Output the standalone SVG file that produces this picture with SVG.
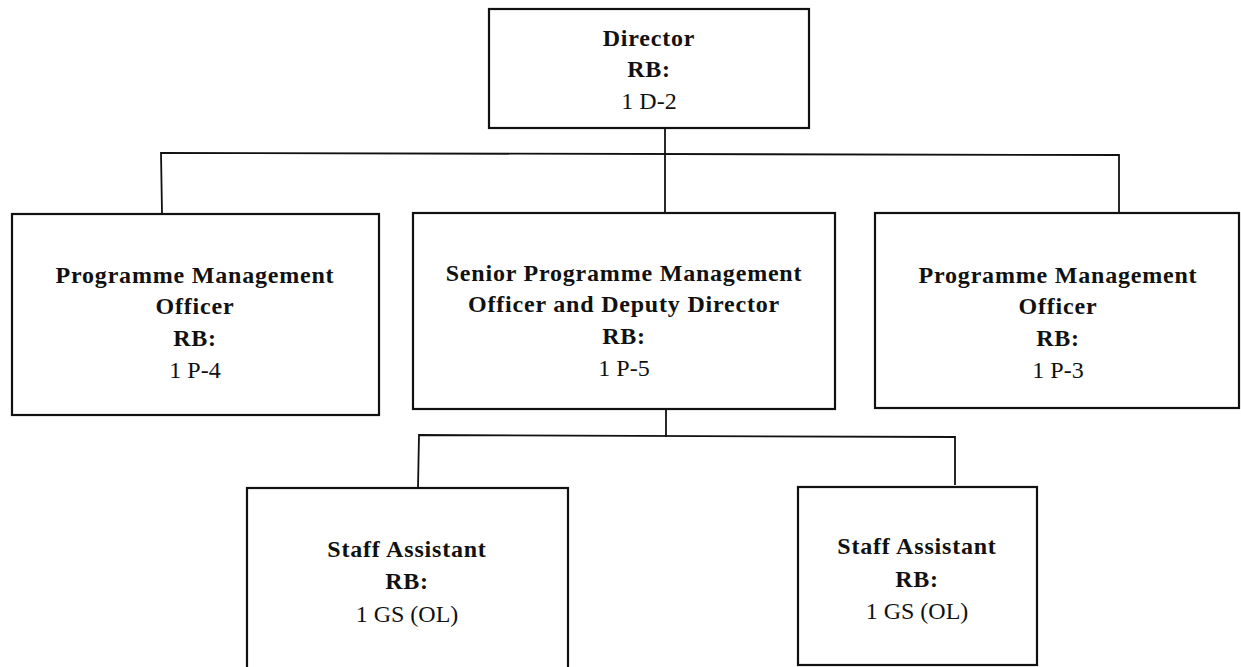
<svg xmlns="http://www.w3.org/2000/svg" width="1241" height="667" viewBox="0 0 1241 667">
  <style>
    .box { fill: #ffffff; stroke: #111111; stroke-width: 2.2; }
    .wire { fill: none; stroke: #111111; stroke-width: 1.8; }
    text { font-family: "Liberation Serif", "Times New Roman", serif; font-size: 24px; fill: #111111; text-anchor: middle; }
    .b { font-weight: bold; letter-spacing: 0.8px; }
  </style>
  <rect width="1241" height="667" fill="#ffffff"/>

  <!-- connectors -->
  <g id="connectors">
    <line class="wire" x1="665" y1="128" x2="665" y2="213"/>
    <polyline class="wire" points="162,213 161,153 1119,155 1119,213"/>
    <line class="wire" x1="666" y1="409" x2="666" y2="437"/>
    <polyline class="wire" points="418,488 419,435 955,437 955,485"/>
  </g>

  <!-- Director -->
  <g id="director">
    <rect class="box" x="489" y="9" width="320" height="119"/>
    <text class="b" x="649" y="46">Director</text>
    <text class="b" x="649" y="77">RB:</text>
    <text x="649" y="109">1 D-2</text>
  </g>

  <!-- Programme Management Officer (P-4) -->
  <g id="pmo-p4">
    <rect class="box" x="12" y="214" width="367" height="201"/>
    <text class="b" x="195" y="283">Programme Management</text>
    <text class="b" x="195" y="314">Officer</text>
    <text class="b" x="195" y="346">RB:</text>
    <text x="195" y="378">1 P-4</text>
  </g>

  <!-- Senior Programme Management Officer and Deputy Director -->
  <g id="spmo-p5">
    <rect class="box" x="413" y="213" width="422" height="196"/>
    <text class="b" x="624" y="281">Senior Programme Management</text>
    <text class="b" x="624" y="312">Officer and Deputy Director</text>
    <text class="b" x="624" y="344">RB:</text>
    <text x="624" y="376">1 P-5</text>
  </g>

  <!-- Programme Management Officer (P-3) -->
  <g id="pmo-p3">
    <rect class="box" x="875" y="213" width="364" height="195"/>
    <text class="b" x="1058" y="283">Programme Management</text>
    <text class="b" x="1058" y="314">Officer</text>
    <text class="b" x="1058" y="346">RB:</text>
    <text x="1058" y="378">1 P-3</text>
  </g>

  <!-- Staff Assistant (left) -->
  <g id="staff-left">
    <rect class="box" x="247" y="488" width="321" height="200"/>
    <text class="b" x="407" y="557">Staff Assistant</text>
    <text class="b" x="407" y="589">RB:</text>
    <text x="407" y="622">1 GS (OL)</text>
  </g>

  <!-- Staff Assistant (right) -->
  <g id="staff-right">
    <rect class="box" x="798" y="487" width="239" height="178"/>
    <text class="b" x="917" y="554">Staff Assistant</text>
    <text class="b" x="917" y="587">RB:</text>
    <text x="917" y="619">1 GS (OL)</text>
  </g>
</svg>
